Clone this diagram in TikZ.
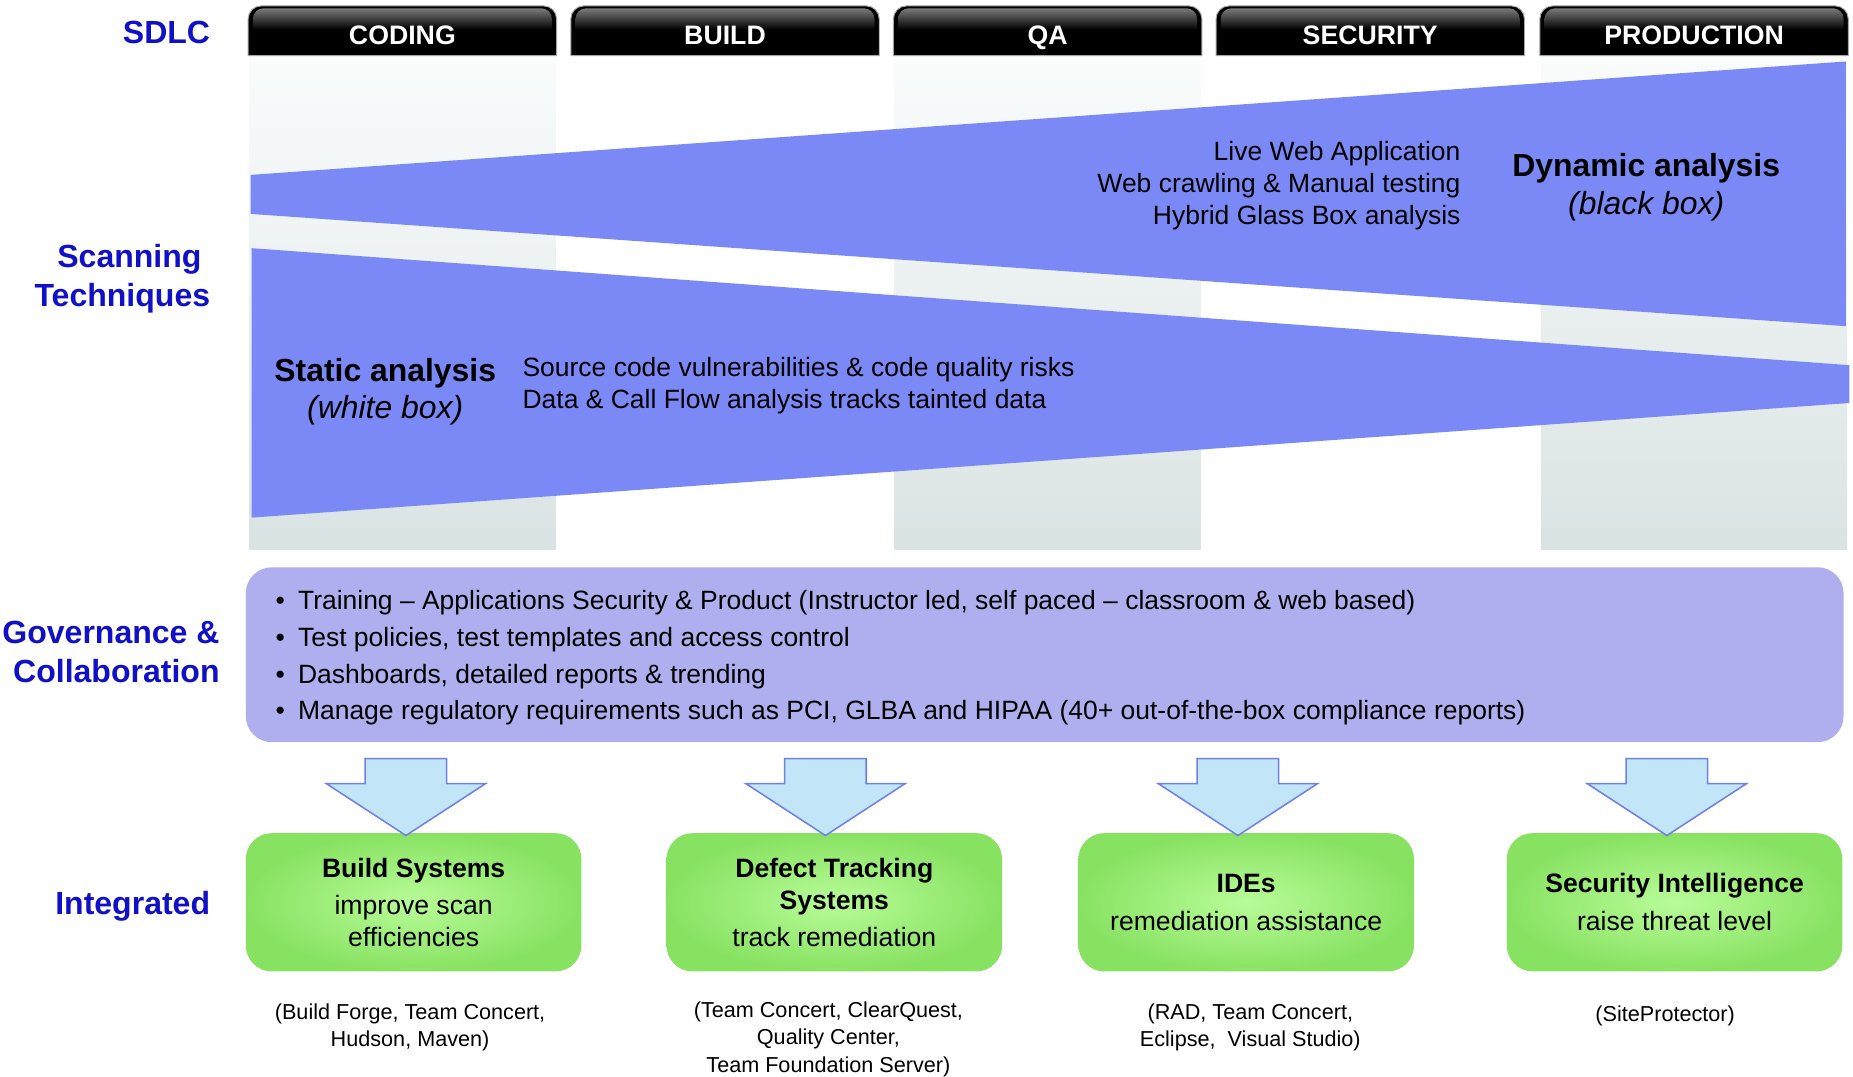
\documentclass[tikz,border=0pt]{standalone}
\usepackage{fontspec}
\setmainfont{Liberation Sans}
\definecolor{labelblue}{HTML}{1010C8}
\definecolor{bandblue}{HTML}{7B89F7}
\definecolor{govfill}{HTML}{AFAFEF}
\definecolor{arrowfill}{HTML}{C2E6F8}
\definecolor{arrowline}{HTML}{6F80EA}
\definecolor{greenedge}{HTML}{88E262}
\definecolor{greencore}{HTML}{B8FC98}
\definecolor{colshade}{HTML}{DAE3E3}
\definecolor{colshadetop}{HTML}{FAFCFC}
\newcommand\fsz[2]{\fontsize{#1}{#2}\selectfont}
\tikzset{
  rowlabel/.style={font=\fsz{27.1}{33}\bfseries, text=labelblue, inner sep=0pt},
  tablabel/.style={font=\fsz{22.6}{26}\bfseries, text=white, inner sep=0pt, anchor=base},
  bandtext/.style={font=\fsz{22.4}{27}, inner sep=0pt},
  bandtitle/.style={font=\fsz{27}{32}, inner sep=0pt, align=center, anchor=base},
  greenbox/.style={rounded corners=22pt, minimum width=284pt, minimum height=117pt,
    inner color=greencore, outer color=greenedge, font=\fsz{22.5}{27}, align=center},
  captiontext/.style={font=\fsz{18.3}{22.5}, align=center, anchor=base, inner sep=0pt},
  blockarrow/.style={fill=arrowfill, draw=arrowline, line width=1.3pt, line join=miter},
}
\begin{document}
\begin{tikzpicture}[x=1pt,y=-1pt]
\useasboundingbox[fill=white] (0,0) rectangle (1568,911);

% shaded lanes below the coding, QA and production phases
\foreach \xa in {210,756,1303}
  \shade[top color=colshadetop, bottom color=colshade] (\xa+1,47) rectangle (\xa+260,465);

% scanning technique wedges
\fill[bandblue] (212,148) -- (1562,52) -- (1562,276) -- (212,181) -- cycle;
\fill[bandblue] (213,210) -- (1565,309) -- (1565,341) -- (213,438) -- cycle;

% SDLC phase tabs
\foreach \name/\label/\xa in {coding/CODING/210, build/BUILD/483, qa/QA/756,
    security/SECURITY/1029, production/PRODUCTION/1303} {
  \fill[black, draw=black!35, line width=0.8pt]
    (\xa,47) [rounded corners=11pt] -- (\xa,5) -- (\xa+261,5) [sharp corners] -- (\xa+261,47) -- cycle;
  \shade[top color=black!52, bottom color=black]
    (\xa+4,25) [rounded corners=9pt] -- (\xa+4,7) -- (\xa+257,7) [sharp corners] -- (\xa+257,25) -- cycle;
  \node[tablabel] (tab-\name) at (\xa+130.5,37.5) {\label};
}

% row labels (multi-line nodes are anchored on their last baseline)
\node[rowlabel, anchor=base east] (lbl-sdlc) at (178,36.5) {SDLC};
\node[rowlabel, anchor=base east, align=center] (lbl-scan) at (178,259.5) {\hspace*{12pt}Scanning\\Techniques};
\node[rowlabel, anchor=base east, align=right] (lbl-gov) at (186,577.5) {Governance \&\\Collaboration};
\node[rowlabel, anchor=base east] (lbl-int) at (178,773.5) {Integrated};

% dynamic analysis texts
\node[bandtext, anchor=base east, align=right] (dyn-items) at (1236,190)
  {Live Web Application\\Web crawling \& Manual testing\\Hybrid Glass Box analysis};
\node[bandtitle] (dyn-title) at (1393,181.5) {\textbf{Dynamic analysis}\\\textit{(black box)}};

% static analysis texts
\node[bandtitle] (stat-title) at (326,354.5) {\textbf{Static analysis}\\\textit{(white box)}};
\node[bandtext, anchor=base west, align=left] (stat-items) at (442,346)
  {Source code vulnerabilities \& code quality risks\\Data \& Call Flow analysis tracks tainted data};

% governance and collaboration panel
\node[fill=govfill, rounded corners=22pt, minimum width=1352pt, minimum height=148pt, inner sep=0pt]
  (gov) at (884,554) {};
\node[anchor=base west, align=left, font=\fsz{22.4}{31}, inner sep=0pt] (gov-items) at (233,609)
  {\makebox[19pt][l]{\textbullet}Training – Applications Security \& Product (Instructor led, self paced – classroom \& web based)\\
   \makebox[19pt][l]{\textbullet}Test policies, test templates and access control\\
   \makebox[19pt][l]{\textbullet}Dashboards, detailed reports \& trending\\
   \makebox[19pt][l]{\textbullet}Manage regulatory requirements such as PCI, GLBA and HIPAA (40+ out-of-the-box compliance reports)};

% integration targets
\node[greenbox] (int-build) at (350,763.5)
  {\textbf{Build Systems}\\[4pt]improve scan\\efficiencies};
\node[greenbox] (int-defect) at (706,763.5)
  {\textbf{Defect Tracking}\\\textbf{Systems}\\[4pt]track remediation};
\node[greenbox] (int-ide) at (1054.5,763.5)
  {\textbf{IDEs}\\[5pt]remediation assistance};
\node[greenbox] (int-si) at (1417,763.5)
  {\textbf{Security Intelligence}\\[5pt]raise threat level};

% block arrows from the panel into each target
\coordinate (arr1) at (343.5,707);
\coordinate (arr2) at (698.5,707);
\coordinate (arr3) at (1047.5,707);
\coordinate (arr4) at (1410.5,707);
\foreach \i in {1,...,4}
  \draw[blockarrow, shift={(arr\i)}] (-34.5,-65) -- (34.5,-65) -- (34.5,-44) -- (67.5,-44)
    -- (0,0) -- (-67.5,-44) -- (-34.5,-44) -- cycle;

% product lists
\node[captiontext] (cap-build) at (347,885.5) {(Build Forge, Team Concert,\\Hudson, Maven)};
\node[captiontext] (cap-defect) at (701,907.5) {(Team Concert, ClearQuest,\\Quality Center,\\[1.5pt]Team Foundation Server)};
\node[captiontext] (cap-ide) at (1058,885.5) {(RAD, Team Concert,\\Eclipse,~ Visual Studio)};
\node[captiontext] (cap-si) at (1409,864.5) {(SiteProtector)};
\end{tikzpicture}
\end{document}
